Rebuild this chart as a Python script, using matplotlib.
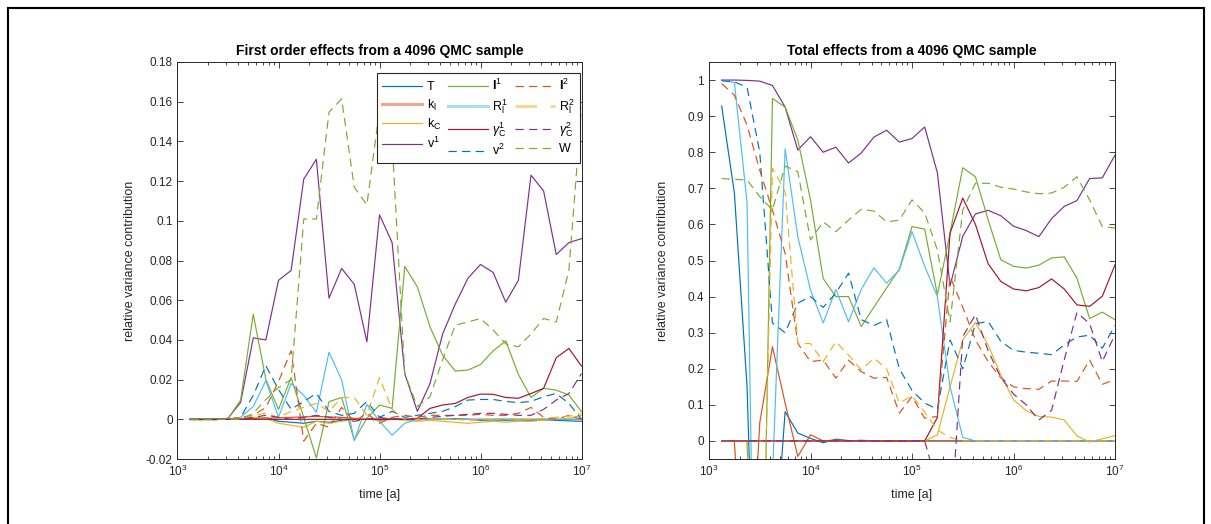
import numpy as np
import matplotlib
matplotlib.use('Agg')
import matplotlib.pyplot as plt
from matplotlib.ticker import FuncFormatter, LogLocator, NullFormatter
from matplotlib.patches import Rectangle

plt.rcParams['font.family'] = ['Liberation Sans', 'DejaVu Sans']
plt.rcParams['mathtext.fontset'] = 'custom'
plt.rcParams['mathtext.rm'] = 'Liberation Sans'
plt.rcParams['mathtext.it'] = 'Liberation Sans:italic'
plt.rcParams['mathtext.bf'] = 'Liberation Sans:bold'
plt.rcParams['axes.unicode_minus'] = False

# ---------------- data ----------------
time = 10 ** (3.125 + 0.125 * np.arange(32))

labels = ['T', r'k$_{\rm l}$', r'k$_{\rm C}$', r'v$^{1}$',
          r'$\mathbf{I}^{1}$', r'R$_{\rm l}^{1}$', r'$\gamma_{\rm C}^{1}$', r'v$^{2}$',
          r'$\mathbf{I}^{2}$', r'R$_{\rm l}^{2}$', r'$\gamma_{\rm C}^{2}$', 'W']

# first order effects
T_1 = [0, 0, 0, 0, 0.0003, 0.0005, 0.0008, -0.001,
       -0.0015, -0.002, -0.001, -0.0015, -0.0005, 0.0, 0.0002, -0.0005,
       0.0005, 0.0, -0.0003, 0.0002, 0.0, 0.0003, 0.0, -0.0005,
       -0.0003, -0.0005, -0.0003, -0.0005, -0.0003, -0.0005, -0.0008, -0.001]
kl_1 = [0, 0, 0, 0, 0, 0.0003, 0.0005, 0.0008,
        0.001, 0.0012, 0.0015, 0.0012, 0.001, 0.0005, 0.0003, 0.0002,
        0.0002, 0, 0, 0, 0, 0, 0, 0,
        0, 0, 0, 0, 0, 0, 0, 0]
kC_1 = [0, 0, 0, 0, 0.0005, 0.001, 0.0005, -0.002,
        -0.003, -0.004, -0.001, -0.002, -0.001, 0.0, 0.0005, -0.001,
        0.0, -0.0005, -0.001, -0.0005, -0.001, -0.0015, -0.002, -0.0015,
        -0.001, -0.0015, -0.001, -0.001, -0.0005, 0.0, 0.0005, 0.002]
v1_1 = [0, 0, 0, 0.0005, 0.0085, 0.041, 0.040, 0.070,
        0.075, 0.121, 0.131, 0.061, 0.076, 0.068, 0.039, 0.103,
        0.089, 0.023, 0.004, 0.018, 0.043, 0.058, 0.071, 0.078,
        0.074, 0.059, 0.070, 0.123, 0.115, 0.083, 0.089, 0.091]
I1_1 = [-0.0003, -0.0003, -0.0003, 0.0003, 0.0097, 0.053, 0.020, 0.005,
        0.021, 0.001, -0.0195, 0.0089, 0.011, -0.0104, 0.0005, 0.0072,
        0.0055, 0.077, 0.0667, 0.0466, 0.0323, 0.0243, 0.0248, 0.0276,
        0.0345, 0.0395, 0.0226, 0.011, 0.0156, 0.0147, 0.0122, 0.0039]
R1_1 = [0, 0, 0, 0, 0.001, 0.0064, 0.0195, 0.001,
        0.018, 0.012, 0.0035, 0.0338, 0.0199, -0.0108, 0.0075, -0.001,
        -0.008, -0.002, 0, 0, 0, 0, 0, 0,
        0, 0, 0, 0, 0, 0, 0, 0]
gC1_1 = [0, 0, 0, 0, 0, 0, 0, 0,
         0, 0, 0, 0, 0, 0, 0, 0,
         0, 0, 0.0005, 0.0055, 0.0072, 0.008, 0.011, 0.0127,
         0.0126, 0.011, 0.0106, 0.013, 0.0156, 0.031, 0.0357, 0.0268]
v2_1 = [0, 0, 0, 0, 0.001, 0.012, 0.027, 0.015,
        0.005, 0.009, 0.013, 0.004, 0.002, 0.003, 0.009, 0.001,
        0.004, 0.001, 0.002, 0.003, 0.004, 0.0064, 0.0097, 0.010,
        0.010, 0.009, 0.0084, 0.009, 0.0114, 0.013, 0.008, 0.0]
I2_1 = [0, 0, 0, 0, 0.001, 0.002, 0.006, 0.019,
        0.0346, -0.011, -0.002, -0.004, 0.006, -0.001, 0.003, -0.002,
        0.001, 0.002, 0.001, 0.002, 0.002, 0.002, 0.002, 0.0025,
        0.002, 0.002, 0.003, 0.006, 0.001, 0.0, 0.002, 0.0]
R2_1 = [0, 0, 0, 0, 0.0005, 0.002, 0.003, 0.001,
        0.004, 0.006, 0.008, 0.004, 0.011, 0.011, 0.002, 0.021,
        0.005, 0.0, 0.0, 0.0, 0.0, 0.0, -0.0005, 0.0,
        0.0, 0.0005, 0.0, 0.0, 0.0005, 0.001, 0.0015, 0.003]
gC2_1 = [0, 0, 0, 0, 0, 0.001, 0.002, 0.001,
         0.0, 0.001, 0.002, 0.001, 0.0, -0.001, 0.0, 0.001,
         0.0, 0.0, 0.0, 0.001, 0.0015, 0.002, 0.0025, 0.003,
         0.003, 0.0025, 0.002, 0.002, 0.005, 0.0097, 0.013, 0.023]
W_1 = [0, 0, 0, 0, 0, 0.003, 0.010, 0.016,
       0.020, 0.1009, 0.1009, 0.1547, 0.1614, 0.117, 0.108, 0.156,
       0.14, 0.023, 0.0064, 0.0114, 0.030, 0.0474, 0.049, 0.0508,
       0.045, 0.038, 0.0365, 0.043, 0.0508, 0.049, 0.075, 0.157]

# total effects
T_T = [0.928, 0.687, 0.15, -1.0, -0.4, 0.081, 0.022, 0.007,
       -0.005, 0.005, 0.001, 0.0, 0.001, 0.0, 0.0, 0.0,
       0, 0, 0, 0, 0, 0, 0, 0,
       0, 0, 0, 0, 0, 0, 0, 0]
kl_T = [0, 0, -0.6, 0.05, 0.261, 0.105, -0.043, 0.017,
        0.0, 0.003, 0.0, 0.002, 0.0, 0.0, 0.0, 0.0,
        0, 0, 0, 0, 0, 0, 0, 0,
        0, 0, 0, 0, 0, 0, 0, 0]
kC_T = [0, 0, 0, 0, 0, 0, 0, 0,
        0, 0, 0, 0, 0, 0, 0, 0,
        0, 0.017, 0.15, 0.28, 0.328, 0.266, 0.183, 0.114,
        0.084, 0.068, 0.066, 0.058, 0.014, -0.003, 0.006, 0.015]
v1_T = [1.0, 1.0, 0.999, 0.997, 0.985, 0.925, 0.806, 0.843,
        0.80, 0.814, 0.770, 0.798, 0.842, 0.861, 0.828, 0.838,
        0.87, 0.743, 0.43, 0.567, 0.629, 0.639, 0.624, 0.595,
        0.583, 0.566, 0.616, 0.650, 0.666, 0.727, 0.729, 0.792]
I1_T = [0, 0, 0, -1.0, 0.949, 0.925, 0.834, 0.668,
        0.45, 0.40, 0.40, 0.317, 0.371, 0.424, 0.476, 0.594,
        0.587, 0.405, 0.576, 0.757, 0.732, 0.613, 0.502, 0.484,
        0.479, 0.487, 0.507, 0.51, 0.451, 0.339, 0.357, 0.336]
R1_T = [1.0, 0.993, 0.66, -1.5, -0.1, 0.809, 0.566, 0.418,
        0.327, 0.42, 0.33, 0.42, 0.48, 0.437, 0.474, 0.58,
        0.484, 0.40, 0.15, 0.01, 0, 0, 0, 0,
        0, 0, 0, 0, 0, 0, 0, 0]
gC1_T = [0, 0, 0, 0, 0, 0, 0, 0,
         0, 0, 0, 0, 0, 0, 0, 0,
         0, 0.065, 0.576, 0.673, 0.60, 0.491, 0.442, 0.421,
         0.416, 0.425, 0.449, 0.421, 0.377, 0.373, 0.401, 0.488]
v2_T = [0.998, 0.995, 0.98, 0.80, 0.327, 0.30, 0.382, 0.40,
        0.37, 0.41, 0.465, 0.336, 0.32, 0.336, 0.20, 0.14,
        0.105, 0.088, 0.28, 0.20, 0.325, 0.331, 0.276, 0.251,
        0.246, 0.243, 0.239, 0.266, 0.288, 0.293, 0.257, 0.32]
I2_T = [0.99, 0.958, 0.875, 0.75, 0.64, 0.52, 0.27, 0.22,
        0.224, 0.174, 0.224, 0.192, 0.174, 0.176, 0.077, 0.123,
        0.063, 0.068, 0.456, 0.37, 0.28, 0.22, 0.175, 0.15,
        0.145, 0.143, 0.166, 0.166, 0.165, 0.224, 0.157, 0.17]
R2_T = [0, 0, 0, -0.8, 0.756, 0.69, 0.27, 0.27,
        0.22, 0.275, 0.238, 0.197, 0.229, 0.2, 0.105, 0.125,
        0.08, 0.03, 0.01, 0.0, 0, 0, 0, 0,
        0, 0, 0, 0, 0, 0, 0, 0]
gC2_T = [0, 0, 0, 0, 0, 0, 0, 0,
         0, 0, 0, 0, 0, 0, 0, 0,
         0.0, -0.125, -0.27, 0.289, 0.35, 0.25, 0.176, 0.13,
         0.10, 0.058, 0.085, 0.225, 0.356, 0.325, 0.22, 0.295]
W_T = [0.727, 0.725, 0.723, 0.677, 0.64, 0.762, 0.746, 0.557,
       0.607, 0.58, 0.612, 0.642, 0.637, 0.607, 0.612, 0.668,
       0.632, 0.529, 0.33, 0.64, 0.714, 0.714, 0.703, 0.698,
       0.69, 0.685, 0.687, 0.703, 0.732, 0.668, 0.594, 0.59]

first_order = [T_1, kl_1, kC_1, v1_1, I1_1, R1_1, gC1_1, v2_1, I2_1, R2_1, gC2_1, W_1]
total = [T_T, kl_T, kC_T, v1_T, I1_T, R1_T, gC1_T, v2_T, I2_T, R2_T, gC2_T, W_T]

# ---------------- styles ----------------
C = ['#0072BD', '#D95319', '#EDB120', '#7E2F8E', '#77AC30', '#4DBEEE', '#A2142F']
colors = [C[0], C[1], C[2], C[3], C[4], C[5], C[6], C[0], C[1], C[2], C[3], C[4]]
dash = (0, (7, 4.5))
styles = ['-'] * 7 + [dash] * 5
thick = {1, 5, 9}   # shown thick & light in the legend

axcol = '#262626'

fig = plt.figure(figsize=(12.11, 5.24), dpi=100)
ax1 = fig.add_axes([177.5 / 1211, 65 / 524, 404 / 1211, 397 / 524])
ax2 = fig.add_axes([709 / 1211, 65 / 524, 406 / 1211, 397 / 524])


def style_axes(ax):
    ax.set_xscale('log')
    ax.set_xlim(1e3, 1e7)
    ax.set_xticks([1e3, 1e4, 1e5, 1e6, 1e7])
    ax.xaxis.set_minor_locator(LogLocator(base=10, subs=np.arange(2, 10)))
    ax.xaxis.set_minor_formatter(NullFormatter())
    ax.tick_params(which='both', direction='in', top=True, right=True,
                   colors=axcol, labelcolor=axcol, labelsize=8.5, width=0.6)
    ax.tick_params(which='major', length=4.5)
    ax.tick_params(which='minor', length=2.5)
    ax.yaxis.set_major_formatter(FuncFormatter(lambda v, p: '%g' % round(v, 4)))
    for s in ax.spines.values():
        s.set_color(axcol)
        s.set_linewidth(0.7)
    ax.set_xlabel('time [a]', fontsize=9, color=axcol, labelpad=7)
    ax.set_ylabel('relative variance contribution', fontsize=9, color=axcol)


for ax, data in ((ax1, first_order), (ax2, total)):
    for k, vals in enumerate(data):
        ax.plot(time, vals, color=colors[k], linestyle=styles[k], lw=0.85,
                label=labels[k])
    style_axes(ax)

ax1.set_ylim(-0.02, 0.18)
ax1.set_yticks(np.arange(-0.02, 0.1801, 0.02))
ax2.set_ylim(-0.05, 1.05)
ax2.set_yticks(np.arange(0, 1.001, 0.1))

ax1.set_title('First order effects from a 4096 QMC sample', fontsize=10,
              fontweight='bold', pad=5)
ax2.set_title('Total effects from a 4096 QMC sample', fontsize=10,
              fontweight='bold', pad=5)

ax1.yaxis.set_label_coords(-0.103, 0.5)
ax2.yaxis.set_label_coords(-0.099, 0.5)

leg = ax1.legend(ncol=3, loc='upper right', bbox_to_anchor=(0.996, 0.972),
                 borderaxespad=0, fontsize=9, handlelength=3.2,
                 handletextpad=0.35, columnspacing=0.55, labelspacing=0.33,
                 fancybox=False, framealpha=1, edgecolor=axcol,
                 borderpad=0.4)
leg.get_frame().set_linewidth(0.8)
for k, h in enumerate(leg.get_lines()):
    if k in thick:
        h.set_linewidth(2.2)
        h.set_alpha(0.5)

fig.add_artist(Rectangle((8 / 1211, -0.05), 1196 / 1211, (524 - 8) / 524 + 0.05,
                         transform=fig.transFigure, fill=False,
                         edgecolor='black', linewidth=1.5, clip_on=False))

fig.savefig('out.png', dpi=100)
